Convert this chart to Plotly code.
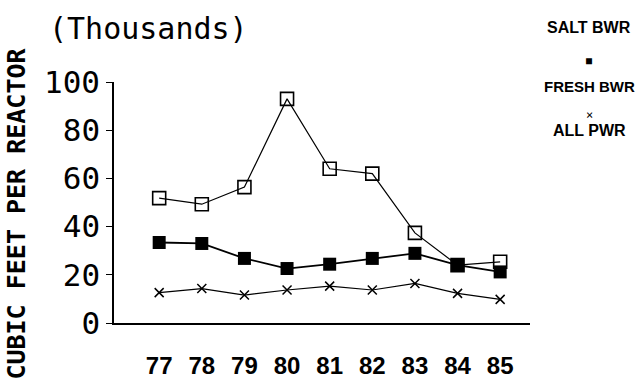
import plotly.graph_objects as go

years = [77, 78, 79, 80, 81, 82, 83, 84, 85]
year_labels = ["77", "78", "79", "80", "81", "82", "83", "84", "85"]
salt_bwr = [51.8, 49.3, 56.4, 93.0, 64.0, 62.0, 37.4, 24.0, 25.4]
fresh_bwr = [33.4, 33.0, 26.8, 22.6, 24.4, 26.8, 28.9, 24.0, 21.2]
all_pwr = [12.6, 14.3, 11.6, 13.7, 15.3, 13.7, 16.4, 12.3, 9.8]
y_ticks = [0, 20, 40, 60, 80, 100]

MONO = "DejaVu Sans Mono, Liberation Mono, monospace"
SANS = "Liberation Sans, Arial, sans-serif"

fig = go.Figure()
fig.add_trace(go.Scatter(
    x=years, y=salt_bwr, mode="lines+markers", name="SALT BWR",
    line=dict(color="black", width=1.2),
    marker=dict(symbol="square-open", size=13, color="black", line=dict(width=1.6)),
))
fig.add_trace(go.Scatter(
    x=years, y=fresh_bwr, mode="lines+markers", name="FRESH BWR",
    line=dict(color="black", width=1.8),
    marker=dict(symbol="square", size=13, color="black"),
))
fig.add_trace(go.Scatter(
    x=years, y=all_pwr, mode="lines+markers", name="ALL PWR",
    line=dict(color="black", width=1.2),
    marker=dict(symbol="x-thin-open", size=9, color="black", line=dict(width=1.5, color="black")),
))

legend_x = 1.143
fig.update_layout(
    width=636, height=391,
    margin=dict(l=114, r=106, t=82, b=68),
    paper_bgcolor="white", plot_bgcolor="white",
    showlegend=False,
    xaxis=dict(
        range=[75.94, 85.7], tickvals=years, ticktext=year_labels,
        showgrid=False, zeroline=False, showline=True, linecolor="black", linewidth=2,
        ticks="", ticklabelstandoff=20, automargin=False,
        tickfont=dict(family=SANS, size=24, color="black", weight="bold"),
    ),
    yaxis=dict(
        range=[0, 100], tickvals=y_ticks, ticktext=[str(v) for v in y_ticks],
        showgrid=False, zeroline=False, showline=True, linecolor="black", linewidth=1.5,
        ticks="outside", ticklen=6, tickcolor="black", tickwidth=1.2, automargin=False,
        tickfont=dict(family=MONO, size=31, color="black"),
    ),
    annotations=[
        dict(text="(Thousands)", xref="paper", yref="paper", x=-0.16, y=1.22,
             xanchor="left", yanchor="middle", showarrow=False,
             font=dict(family=MONO, size=30, color="black")),
        dict(text="<b>CUBIC FEET PER REACTOR</b>", xref="paper", yref="paper",
             x=-0.235, y=0.455, xanchor="center", yanchor="middle", textangle=-90,
             showarrow=False, font=dict(family=MONO, size=25, color="black")),
        dict(text="<b>SALT BWR</b>", xref="paper", yref="paper", x=legend_x, y=1.228,
             xanchor="center", yanchor="middle", showarrow=False,
             font=dict(family=SANS, size=16, color="black")),
        dict(text="■", xref="paper", yref="paper", x=legend_x, y=1.091,
             xanchor="center", yanchor="middle", showarrow=False,
             font=dict(family=MONO, size=10, color="black")),
        dict(text="<b>FRESH BWR</b>", xref="paper", yref="paper", x=legend_x, y=0.983,
             xanchor="center", yanchor="middle", showarrow=False,
             font=dict(family=SANS, size=15, color="black")),
        dict(text="×", xref="paper", yref="paper", x=legend_x, y=0.863,
             xanchor="center", yanchor="middle", showarrow=False,
             font=dict(family=MONO, size=12, color="black")),
        dict(text="<b>ALL PWR</b>", xref="paper", yref="paper", x=legend_x, y=0.797,
             xanchor="center", yanchor="middle", showarrow=False,
             font=dict(family=SANS, size=16, color="black")),
    ],
)

fig.write_html("out.html")
